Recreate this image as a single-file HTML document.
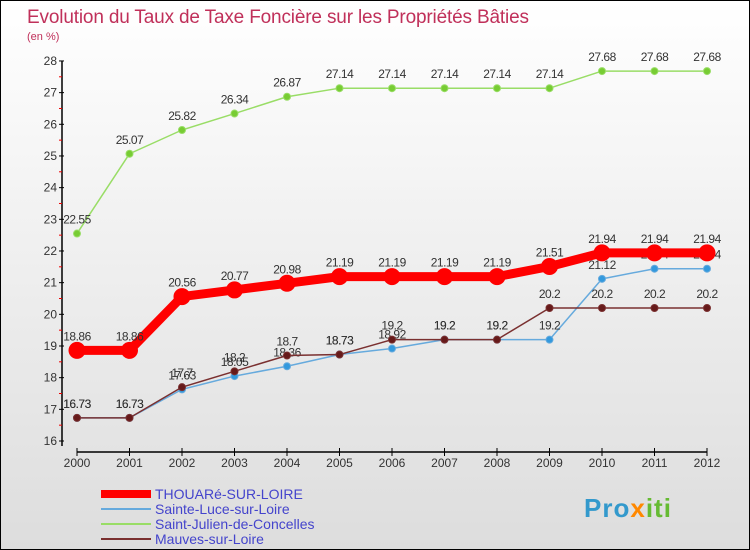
<!DOCTYPE html>
<html><head><meta charset="utf-8"><style>
body{margin:0}
#c{width:750px;height:550px;position:relative;overflow:hidden;background:linear-gradient(#fff,#ddd);border:1px solid #000;box-sizing:border-box;font-family:"Liberation Sans",sans-serif}
</style></head><body>
<div id="c">
<svg id="s" width="750" height="550" xmlns="http://www.w3.org/2000/svg"></svg>
</div>
<script>
const years=[2000,2001,2002,2003,2004,2005,2006,2007,2008,2009,2010,2011,2012];
const thouare=[18.86,18.86,20.56,20.77,20.98,21.19,21.19,21.19,21.19,21.51,21.94,21.94,21.94];
const saintJulien=[22.55,25.07,25.82,26.34,26.87,27.14,27.14,27.14,27.14,27.14,27.68,27.68,27.68];
const sainteLuce=[16.73,16.73,17.63,18.05,18.36,18.73,18.92,19.2,19.2,19.2,21.12,21.44,21.44];
const mauves=[16.73,16.73,17.7,18.2,18.7,18.73,19.2,19.2,19.2,20.2,20.2,20.2,20.2];
const yTicks=[16,17,18,19,20,21,22,23,24,25,26,27,28];
const s=document.getElementById('s');const NS='http://www.w3.org/2000/svg';
const X=i=>76+i*52.5, Y=v=>440-(v-16)*31.67;
function el(t,a,txt){const e=document.createElementNS(NS,t);for(const k in a)e.setAttribute(k,a[k]);if(txt!==undefined)e.textContent=txt;s.appendChild(e);return e;}
let e;
e=el('text',{x:26,y:22,'font-size':19,fill:'#c0305a',textLength:502},'Evolution du Taux de Taxe Foncière sur les Propriétés Bâties');

e=el('text',{x:26,y:39,'font-size':11,fill:'#c0305a'},'(en %)');

e=el('line',{x1:61,y1:60,x2:61,y2:445,stroke:'#000','stroke-width':1.5});

yTicks.forEach(v=>{
 e=el('line',{x1:58,x2:63,y1:Y(v),y2:Y(v),stroke:'#000'});
 
 e=el('text',{x:56,y:Y(v)+4,'font-size':12,fill:'#333','text-anchor':'end'},v);
 
 if(v<28){e=el('line',{x1:58,x2:61,y1:Y(v+0.5),y2:Y(v+0.5),stroke:'#e00'});
 }
});
e=el('line',{x1:76,y1:451,x2:706,y2:451,stroke:'#000','stroke-width':1.5});

years.forEach((y,i)=>{
 e=el('line',{x1:X(i),x2:X(i),y1:447,y2:455,stroke:'#000'});
 
 e=el('text',{x:X(i),y:466,'font-size':12,fill:'#333','text-anchor':'middle'},y);
 
});
function series(d,color,w,r,dot,name){
 e=el('polyline',{points:d.map((v,i)=>X(i)+','+Y(v)).join(' '),fill:'none',stroke:color,'stroke-width':w,'stroke-linejoin':'round'});
 
 d.forEach((v,i)=>{
  e=el('circle',{cx:X(i),cy:Y(v),r:r,fill:dot,stroke:color,'stroke-width':1});
  
  e=el('text',{x:X(i),y:Y(v)-10,'font-size':12,fill:'#333','text-anchor':'middle','letter-spacing':'-0.5'},v);
  
 });
}
series(saintJulien,'#99dd66',1.5,3.5,'#77cc33','saint-julien');
series(sainteLuce,'#66aadd',1.5,3.5,'#3399dd','sainte-luce');
series(mauves,'#7a3030',1.5,3.5,'#661a1a','mauves');
series(thouare,'#ff0000',9,8,'#ff0000','thouare');
const leg=[['THOUARé-SUR-LOIRE','#ff0000',8],['Sainte-Luce-sur-Loire','#66aadd',2],['Saint-Julien-de-Concelles','#99dd66',2],['Mauves-sur-Loire','#7a3030',2]];
leg.forEach((l,i)=>{const y=493+i*15;
 e=el('line',{x1:100,x2:150,y1:y,y2:y,stroke:l[1],'stroke-width':l[2]});
 
 e=el('text',{x:154,y:y+5,'font-size':14,fill:'#4444cc'},l[0]);
 
});
e=el('text',{x:583,y:516,'font-size':26,'font-weight':'bold','letter-spacing':'1'});

e.innerHTML='<tspan fill="#3399cc">Pro</tspan><tspan fill="#ff8800">x</tspan><tspan fill="#66bb33">iti</tspan>';
</script>
</body></html>
